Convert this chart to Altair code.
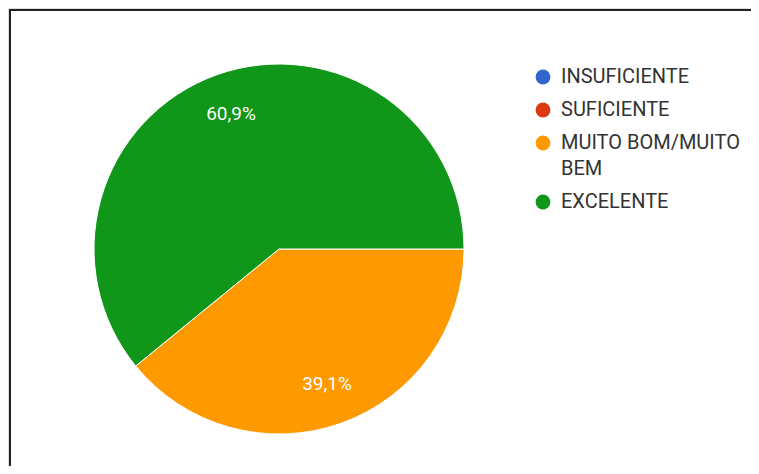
import math
import altair as alt
import pandas as pd

categories = ["INSUFICIENTE", "SUFICIENTE", "MUITO BOM/MUITO BEM", "EXCELENTE"]
values = [0.0, 0.0, 39.1, 60.9]
colors = ["#3366cc", "#dc3912", "#ff9900", "#109618"]

df = pd.DataFrame({"cat": categories, "value": values, "idx": list(range(len(categories)))})

W, H = 743, 458
CX, CY = 271, 241
R = 185

theta_scale = alt.Scale(range=[math.pi / 2, math.pi / 2 + 2 * math.pi])
color_scale = alt.Scale(domain=categories, range=colors)

base = alt.Chart(df)

pie = base.mark_arc(outerRadius=R, stroke="white", strokeWidth=1).encode(
    theta=alt.Theta("value:Q", stack=True, scale=theta_scale),
    color=alt.Color(
        "cat:N",
        scale=color_scale,
        sort=categories,
        legend=alt.Legend(
            title=None,
            orient="none",
            legendX=525,
            legendY=59,
            symbolType="circle",
            symbolSize=220,
            symbolStrokeWidth=0,
            labelFont="Roboto",
            labelFontSize=20,
            labelColor="#333333",
            labelExpr="datum.label == 'MUITO BOM/MUITO BEM' ? ['MUITO BOM/MUITO', 'BEM'] : datum.label",
            labelLimit=300,
            labelOffset=8,
            rowPadding=13,
        ),
    ),
    order=alt.Order("idx:Q"),
    x=alt.value(CX),
    y=alt.value(CY),
)

labels = base.transform_filter("datum.value > 0").transform_calculate(
    lab="replace(format(datum.value, '.1f'), '.', ',') + '%'"
).mark_text(radius=143, font="Roboto", fontSize=19, color="white").encode(
    theta=alt.Theta("value:Q", stack=True, scale=theta_scale),
    text="lab:N",
    order=alt.Order("idx:Q"),
    x=alt.value(CX),
    y=alt.value(CY),
)

top_border = alt.Chart(df).mark_rule(color="#222222", strokeWidth=2).encode(
    x=alt.value(1), x2=alt.value(W), y=alt.value(2)
)
left_border = alt.Chart(df).mark_rule(color="#222222", strokeWidth=2).encode(
    x=alt.value(2), y=alt.value(1), y2=alt.value(H)
)

chart = alt.layer(pie, labels, top_border, left_border).properties(
    width=W, height=H, autosize=alt.AutoSizeParams(type="none"), padding=0
).configure_view(strokeWidth=0, stroke="transparent", fill="white").configure(
    background="white", style={"guide-label": {"lineHeight": 26}}
)

chart.save("out.html", embed_options={"renderer": "svg", "actions": False})
